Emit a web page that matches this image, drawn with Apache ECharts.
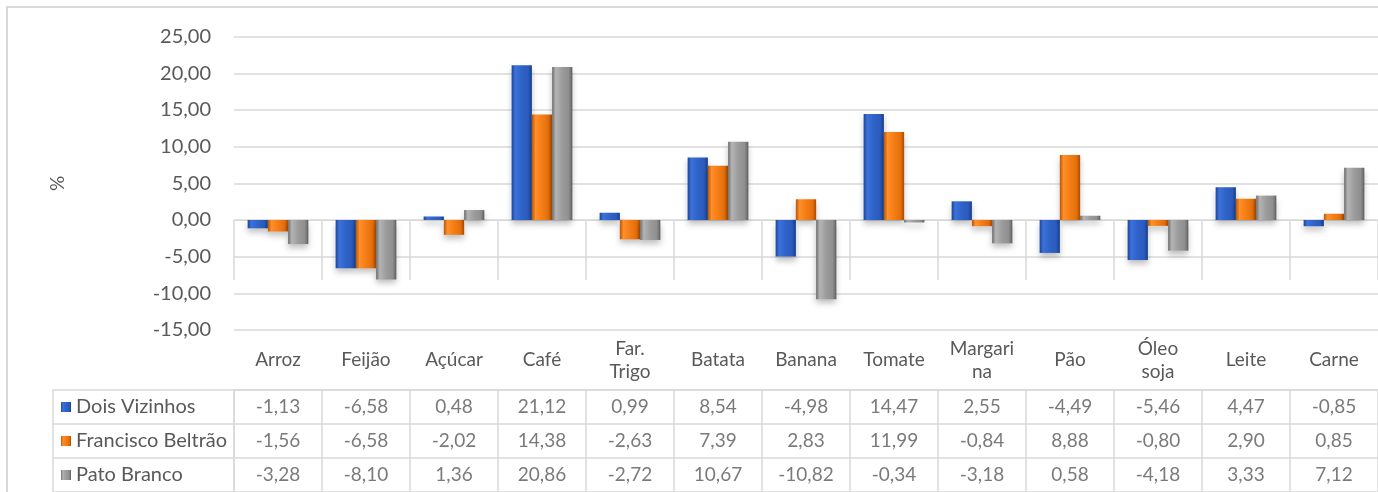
<!DOCTYPE html>
<html><head><meta charset="utf-8">
<script src="https://cdn.jsdelivr.net/npm/echarts@6/dist/echarts.min.js"></script>
<style>html,body{margin:0;padding:0;background:#fff}#c{width:1378px;height:492px}</style>
</head><body><div id="c"></div>
<script>
// ---- data ----
const categories = ["Arroz","Feijão","Açúcar","Café","Far.\nTrigo","Batata","Banana","Tomate","Margari\nna","Pão","Óleo\nsoja","Leite","Carne"];
const seriesNames = ["Dois Vizinhos","Francisco Beltrão","Pato Branco"];
const doisVizinhos = [-1.13,-6.58,0.48,21.12,0.99,8.54,-4.98,14.47,2.55,-4.49,-5.46,4.47,-0.85];
const franciscoBeltrao = [-1.56,-6.58,-2.02,14.38,-2.63,7.39,2.83,11.99,-0.84,8.88,-0.80,2.90,0.85];
const patoBranco = [-3.28,-8.10,1.36,20.86,-2.72,10.67,-10.82,-0.34,-3.18,0.58,-4.18,3.33,7.12];
const yTicks = {min:-15, max:25, interval:5};
const axisName = "%";

const allSeries = [doisVizinhos, franciscoBeltrao, patoBranco];
const FONT = 'Lato';
const TXT = '#595959';
const LINE = '#d9d9d9';
const fmt = v => v.toFixed(2).replace('.', ',');

const palettes = [
  ['#1b4596','#3b72da','#2f62c8','#2a5bbd','#173d87'],
  ['#b85506','#ff8f2a','#f47d14','#e56f0b','#a84c05'],
  ['#6c6c6c','#b4b4b4','#9c9c9c','#8f8f8f','#5f5f5f']
];
function grad(p){
  return new echarts.graphic.LinearGradient(0,0,1,0,[
    {offset:0,color:p[0]},{offset:0.18,color:p[1]},{offset:0.5,color:p[2]},
    {offset:0.82,color:p[3]},{offset:1,color:p[4]}]);
}

const barSeries = allSeries.map((arr, k) => ({
  name: seriesNames[k], type:'bar', xAxisIndex:0, yAxisIndex:0,
  data: arr, barGap:'0%', barCategoryGap:'31%', silent:true,
  itemStyle:{color:grad(palettes[k]), shadowColor:'rgba(0,0,0,0.25)', shadowBlur:6, shadowOffsetY:4}
}));

const cellSeries = allSeries.map((arr, k) => ({
  type:'scatter', xAxisIndex:1, yAxisIndex:1, symbolSize:0, silent:true,
  data: arr.map((v,i) => [i, k, v]),
  label:{show:true, position:'inside', formatter:p => fmt(p.value[2]),
         color:TXT, fontFamily:FONT, fontSize:19}
}));

const rich = {};
seriesNames.forEach((n,k)=>{ rich['s'+k] = {width:10,height:10,backgroundColor:grad(palettes[k])}; });
rich.t = {color:TXT, fontFamily:FONT, fontSize:20, padding:[0,0,0,5]};

const chart = echarts.init(document.getElementById('c'), null, {renderer:'canvas'});
chart.setOption({
  animation:false,
  graphic:[{type:'rect', shape:{x:7,y:7,width:1420,height:520}, style:{fill:'none',stroke:LINE,lineWidth:2}, silent:true, z:-1}],
  grid:[
    {left:234, width:1153, top:36.7, height:293.3},
    {left:234, width:1153, top:390, height:103.5}
  ],
  xAxis:[
    {type:'category', gridIndex:0, data:categories, position:'bottom',
     axisLine:{show:true,lineStyle:{color:LINE,width:1}},
     axisTick:{show:true,length:60,interval:0,lineStyle:{color:LINE,width:1.5}},
     axisLabel:{interval:0, margin:30, verticalAlign:'middle', color:TXT, fontFamily:FONT, fontSize:19, lineHeight:23},
     splitLine:{show:false}},
    {type:'category', gridIndex:1, data:categories, position:'top',
     axisLine:{show:true,lineStyle:{color:LINE,width:1.5}},
     axisTick:{show:false}, axisLabel:{show:false},
     splitLine:{show:true, interval:0, lineStyle:{color:LINE,width:1.5}}}
  ],
  yAxis:[
    {type:'value', gridIndex:0, min:yTicks.min, max:yTicks.max, interval:yTicks.interval,
     name:axisName, nameLocation:'middle', nameGap:167, nameRotate:90,
     nameTextStyle:{color:TXT, fontFamily:FONT, fontSize:19},
     axisLine:{show:false}, axisTick:{show:false},
     axisLabel:{margin:23, formatter:fmt, color:TXT, fontFamily:FONT, fontSize:20},
     splitLine:{show:true, lineStyle:{color:LINE,width:1.5}}},
    {type:'category', gridIndex:1, data:seriesNames, inverse:true,
     axisLine:{show:true,lineStyle:{color:LINE,width:1.5}},
     axisTick:{show:true,length:181,interval:0,lineStyle:{color:LINE,width:1.5}},
     axisLabel:{interval:0, align:'left', margin:173,
       formatter:(v,i)=>'{s'+i+'|}{t|'+v+'}', rich:rich},
     splitLine:{show:true, interval:0, lineStyle:{color:LINE,width:1.5}}},
    {type:'category', gridIndex:1, data:seriesNames, inverse:true, position:'left', offset:181,
     axisLine:{show:true,lineStyle:{color:LINE,width:1.5}},
     axisTick:{show:false}, axisLabel:{show:false}, splitLine:{show:false}}
  ],
  series: barSeries.concat(cellSeries)
});
</script></body></html>
